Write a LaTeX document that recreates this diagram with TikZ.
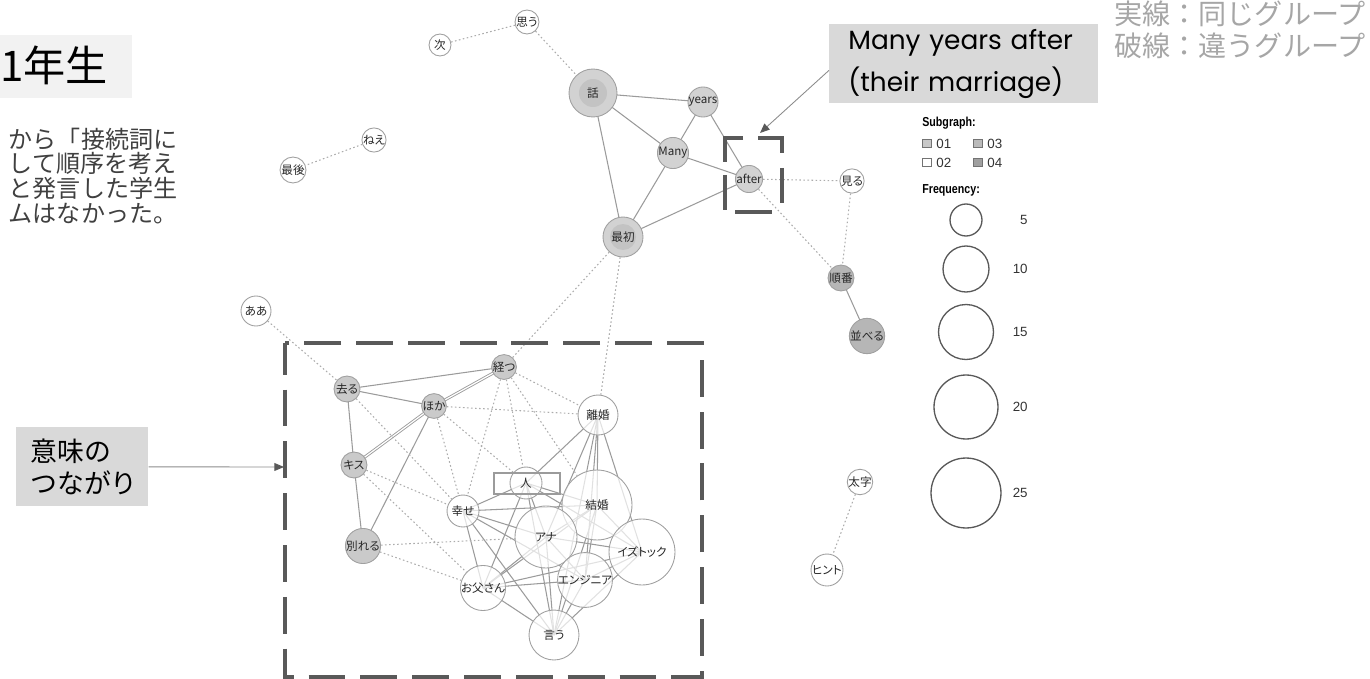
\documentclass[tikz,border=0pt]{standalone}
\usepackage{fontspec}
\newfontfamily\jpfont{Noto Sans CJK JP}
\newfontfamily\nodefont[RawFeature=+palt]{Noto Sans CJK JP}
\newfontfamily\calloutfont{Poppins}
\newfontfamily\legendfont[FakeStretch=0.82]{Liberation Sans}
\newfontfamily\legendnum{Liberation Sans}
\usetikzlibrary{arrows.meta}
\pgfdeclarelayer{background}
\pgfsetlayers{background,main}

\definecolor{tiegray}{RGB}{155,155,155}
\definecolor{hintgray}{RGB}{172,172,172}
\definecolor{nodeline}{RGB}{160,160,160}
\definecolor{grpAfill}{RGB}{210,210,210}
\definecolor{grpAcore}{RGB}{195,195,195}
\definecolor{grpCfill}{RGB}{202,202,202}
\definecolor{grpDfill}{RGB}{182,182,182}
\definecolor{framegray}{RGB}{89,89,89}
\definecolor{calloutgray}{RGB}{217,217,217}
\definecolor{titlebg}{RGB}{242,242,242}
\definecolor{notegray}{RGB}{166,166,166}
\definecolor{bodygray}{RGB}{64,64,64}
\definecolor{arrowgray}{RGB}{140,140,140}
\definecolor{swA}{RGB}{200,200,200}
\definecolor{swC}{RGB}{186,186,186}
\definecolor{swD}{RGB}{160,160,160}

\tikzset{
  word/.style={circle, draw=nodeline, line width=0.5pt, inner sep=0pt,
    text=black!85, font=\nodefont\fontsize{6.6}{7}\selectfont},
  rad/.style={minimum size=#1*0.04cm},
  grpA/.style={word, fill=grpAfill},
  grpB/.style={word, fill=white, fill opacity=0.7, text opacity=1},
  grpC/.style={word, fill=grpCfill},
  grpD/.style={word, fill=grpDfill},
  lone/.style={word, fill=white},
  tie/.style={draw=tiegray, line width=0.6pt},
  dtie/.style={tie, line width=0.5pt, double=white, double distance=0.7pt},
  hint/.style={draw=hintgray, line width=0.6pt, dash pattern=on 0.9pt off 1.4pt},
  groupframe/.style={draw=framegray, line width=2.2pt, dash pattern=on 21pt off 8.5pt, dash phase=3pt},
  focusline/.style={draw=framegray, line width=2.2pt},
  pointer/.style={draw=arrowgray, line width=0.5pt,
    -{Triangle[length=5.5pt, width=4.5pt, color=framegray]}},
  callbox/.style={fill=calloutgray, align=left, inner ysep=0pt},
  legendhead/.style={anchor=west, inner sep=0pt, font=\legendfont\bfseries\fontsize{7.4}{8}\selectfont},
  legendlabel/.style={inner sep=0pt, text=black!80, font=\legendnum\fontsize{7.6}{8}\selectfont},
  swatch/.style={draw=black!55, line width=0.4pt, minimum size=0.17cm, inner sep=0pt},
  sizering/.style={circle, draw=black!65, line width=0.75pt, inner sep=0pt}
}

\begin{document}
\begin{tikzpicture}[x=0.02cm, y=-0.02cm]
  \useasboundingbox (0,0) rectangle (1370,679);

  % texts round the graph
  \node[fill=titlebg, anchor=north west, minimum width=2.64cm, minimum height=1.26cm, inner sep=0pt] (titlebg) at (0,35) {};
  \node[anchor=west, inner sep=0pt, font=\jpfont\fontsize{24}{30}\selectfont] (title) at (0,65) {1年生};
  \node[anchor=west, inner sep=0pt, align=left, text=bodygray, font=\jpfont\fontsize{13.7}{14.2}\selectfont] (remark) at (8.5,176)
    {から「接続詞に\\して順序を考え\\と発言した学生\\ムはなかった。};
  \node[anchor=east, inner sep=0pt, align=left, text=notegray, font=\jpfont\fontsize{16}{18}\selectfont] (linenote) at (1366,30)
    {実線：同じグループ\\破線：違うグループ};
  \node[callbox, anchor=north west, minimum width=5.38cm, minimum height=1.58cm, text width=4.62cm, inner xsep=0.38cm,
    font=\calloutfont\fontsize{15}{23.8}\selectfont] (callout) at (829,24) {Many years after\\(their marriage)};
  \node[callbox, anchor=north west, minimum width=2.64cm, minimum height=1.58cm, text width=2.08cm, inner xsep=0.28cm,
    font=\jpfont\fontsize{15.3}{18.7}\selectfont] (meaning) at (16,427) {意味の\\つながり};

  % subgraph 01
  \node[grpA, rad=24] (hanashi) at (593,93) {};
  \node[word, draw=none, fill=grpAcore, rad=14] (hanashicore) at (hanashi) {話};
  \node[grpA, rad=11] (years) at (703,102) {years};
  \node[grpA, rad=11] (many) at (673,153) {Many};
  \node[grpA, rad=12] (after) at (749,179) {after};
  \node[grpA, rad=20] (saisho) at (623,237) {};
  \node[word, draw=none, fill=grpAcore, rad=13] (saishocore) at (saisho) {最初};

  % subgraph 04
  \node[grpD, rad=13] (junban) at (841,278) {順番};
  \node[grpD, rad=13] (naraberu) at (867,336) {並べる};

  % subgraph 03
  \node[grpC, rad=12] (tatsu) at (504,367) {経つ};
  \node[grpC, rad=13] (saru) at (347,389) {去る};
  \node[grpC, rad=11] (hoka) at (434,406) {ほか};
  \node[grpC, rad=13] (kisu) at (354,465) {キス};
  \node[grpC, rad=14] (wakareru) at (363,546) {別れる};

  % subgraph 02
  \node[grpB, rad=20] (rikon) at (598,415) {離婚};
  \node[grpB, rad=35] (kekkon) at (597,505) {結婚};
  \node[grpB, rad=31] (ana) at (546,537) {アナ};
  \node[grpB, rad=33] (izu) at (642,552) {イズトック};
  \node[grpB, rad=16] (hito) at (526,483) {人};
  \node[grpB, rad=16] (shiawase) at (463,511) {幸せ};
  \node[grpB, rad=17] (engineer) at (585,580) {エンジニア};
  \node[grpB, rad=20] (otousan) at (483,588) {お父さん};
  \node[grpB, rad=25] (iu) at (554,635) {言う};
  \node[draw=tiegray, line width=0.6pt, minimum width=1.32cm, minimum height=0.42cm, inner sep=0pt] (hitobox) at (527,483.5) {};

  % words of no subgraph
  \node[lone, rad=12] (omou) at (527,22) {思う};
  \node[lone, rad=11] (tsugi) at (440,45) {次};
  \node[lone, rad=12] (nee) at (374,140) {ねえ};
  \node[lone, rad=13] (saigo) at (293,170) {最後};
  \node[lone, rad=15] (aa) at (256,311) {ああ};
  \node[lone, rad=11] (miru) at (852,181) {見る};
  \node[lone, rad=11] (futoji) at (860,482) {太字};
  \node[lone, rad=16] (hinto) at (827,570) {ヒント};

  \begin{pgfonlayer}{background}
    % same subgraph
    \draw[tie] (hanashi.center) -- (years.center) (hanashi.center) -- (many.center) (hanashi.center) -- (saisho.center);
    \draw[tie] (years.center) -- (many.center) (years.center) -- (after.center);
    \draw[tie] (many.center) -- (after.center) (many.center) -- (saisho.center) (saisho.center) -- (after.center);
    \draw[tie] (junban.center) -- (naraberu.center);
    \draw[tie] (saru.center) -- (tatsu.center) (saru.center) -- (hoka.center) (saru.center) -- (kisu.center);
    \draw[tie] (hoka.center) -- (wakareru.center) (kisu.center) -- (wakareru.center);
    \draw[dtie] (hoka.center) -- (tatsu.center) (hoka.center) -- (kisu.center);
    \draw[tie] (rikon.center) -- (hito.center) (rikon.center) -- (kekkon.center) (rikon.center) -- (ana.center)
      (rikon.center) -- (engineer.center) (rikon.center) -- (izu.center) (rikon.center) -- (iu.center);
    \draw[tie] (hito.center) -- (shiawase.center) (hito.center) -- (ana.center) (hito.center) -- (kekkon.center)
      (hito.center) -- (otousan.center) (hito.center) -- (izu.center) (hito.center) -- (iu.center);
    \draw[tie] (shiawase.center) -- (kekkon.center) (shiawase.center) -- (ana.center) (shiawase.center) -- (otousan.center)
      (shiawase.center) -- (iu.center) (shiawase.center) -- (engineer.center);
    \draw[tie] (ana.center) -- (kekkon.center) (ana.center) -- (izu.center) (ana.center) -- (engineer.center)
      (ana.center) -- (otousan.center) (ana.center) -- (iu.center);
    \draw[tie] (kekkon.center) -- (izu.center) (kekkon.center) -- (engineer.center) (kekkon.center) -- (iu.center)
      (kekkon.center) -- (otousan.center);
    \draw[tie] (izu.center) -- (engineer.center) (izu.center) -- (otousan.center) (izu.center) -- (iu.center);
    \draw[tie] (engineer.center) -- (otousan.center) (engineer.center) -- (iu.center) (otousan.center) -- (iu.center);
    % other subgraph
    \draw[hint] (tsugi) -- (omou) (omou) -- (hanashi) (nee) -- (saigo);
    \draw[hint] (after) -- (miru) (after) -- (junban) (miru) -- (junban) (futoji) -- (hinto);
    \draw[hint] (saisho) -- (tatsu) (saisho) -- (rikon) (aa) -- (saru) (saru) -- (shiawase);
    \draw[hint] (kisu) -- (shiawase) (kisu) -- (otousan) (wakareru) -- (ana) (wakareru) -- (otousan);
    \draw[hint] (hoka) -- (rikon) (hoka) -- (shiawase) (hoka) -- (hito);
    \draw[hint] (tatsu) -- (shiawase) (tatsu) -- (hito) (tatsu) -- (kekkon) (tatsu) -- (rikon);
  \end{pgfonlayer}

  % marks
  \draw[groupframe] (285,343) rectangle (702,677);
  \draw[focusline] (743,138) -| (725,162);
  \draw[focusline] (758,138) -| (782,153);
  \draw[focusline] (782,168) -- (782,203);
  \draw[focusline] (725,175) -- (725,210);
  \draw[focusline] (735,212) -- (772,212);
  \coordinate (aftertip) at (760,133);
  \coordinate (frameleft) at (284,467);
  \draw[pointer] ([yshift=-0.13cm]callout.west) -- (aftertip);
  \draw[pointer] (meaning.east) -- (frameleft);

  % legend
  \node[legendhead] (subgraph) at (922,123) {Subgraph:};
  \node[swatch, fill=swA] (swA) at (927,143.5) {};
  \node[swatch, fill=white] (swB) at (927,162.5) {};
  \node[swatch, fill=swC] (swC) at (978,143.5) {};
  \node[swatch, fill=swD] (swD) at (978,162.5) {};
  \node[legendlabel, anchor=west] (labA) at (936,143.5) {01};
  \node[legendlabel, anchor=west] (labB) at (936,162.5) {02};
  \node[legendlabel, anchor=west] (labC) at (987,143.5) {03};
  \node[legendlabel, anchor=west] (labD) at (987,162.5) {04};
  \node[legendhead] (frequency) at (922,190) {Frequency:};
  \node[sizering, rad=16] (ringA) at (966,220) {};
  \node[sizering, rad=23] (ringB) at (966,269) {};
  \node[sizering, rad=27.5] (ringC) at (966,332) {};
  \node[sizering, rad=32] (ringD) at (966,407) {};
  \node[sizering, rad=35] (ringE) at (966,493) {};
  \node[legendlabel, anchor=east] (numA) at (1028,220) {5};
  \node[legendlabel, anchor=east] (numB) at (1028,269) {10};
  \node[legendlabel, anchor=east] (numC) at (1028,332) {15};
  \node[legendlabel, anchor=east] (numD) at (1028,407) {20};
  \node[legendlabel, anchor=east] (numE) at (1028,493) {25};
\end{tikzpicture}
\end{document}
